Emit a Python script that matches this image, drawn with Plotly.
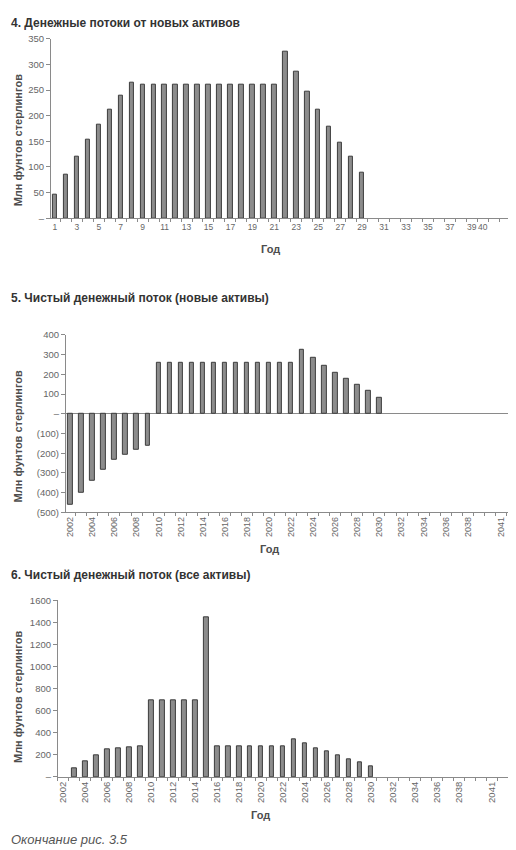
import plotly.graph_objects as go

# 4. cash flows from new assets (year index 1..29)
years_idx = list(range(1, 30))
flows_new = [47, 86, 121, 154, 183, 211, 238, 265,
             260, 260, 260, 260, 260, 260, 260, 260, 260, 260, 260, 260, 260,
             325, 285, 247, 212, 178, 148, 120, 88]
idx_ticks = [1, 3, 5, 7, 9, 11, 13, 15, 17, 19, 21, 23, 25, 27, 29, 31, 33, 35, 37, 39, 40]

# 5. net cash flow, new assets
years_net = list(range(2002, 2031))
net_new = [-463, -400, -338, -283, -233, -208, -183, -163,
           260, 260, 260, 260, 260, 260, 260, 260, 260, 260, 260, 260, 260,
           322, 283, 245, 208, 175, 147, 115, 83]

# 6. net cash flow, all assets
years_all = list(range(2003, 2031))
net_all = [80, 146, 197, 250, 256, 265, 277,
           691, 691, 691, 691, 691, 1448,
           274, 274, 274, 274, 274, 274, 274,
           340, 304, 262, 229, 194, 164, 131, 101]

year_ticks = [2002, 2004, 2006, 2008, 2010, 2012, 2014, 2016, 2018, 2020,
              2022, 2024, 2026, 2028, 2030, 2032, 2034, 2036, 2038, 2041]

W, H = 516, 850
FONT = "Liberation Sans, Arial, sans-serif"
AXIS_COL = "#8a8a8a"
TICK_COL = "#666666"


def px(x):
    return x / W


def py(y):
    return 1 - y / H


bar_style = dict(marker_color="#8c8c8c",
                 marker_line_color="#3c3c3c",
                 marker_line_width=1,
                 width=0.4,
                 showlegend=False)

fig = go.Figure()
fig.add_trace(go.Bar(x=years_idx, y=flows_new, xaxis="x", yaxis="y", **bar_style))
fig.add_trace(go.Bar(x=years_net, y=net_new, xaxis="x2", yaxis="y2", **bar_style))
fig.add_trace(go.Bar(x=years_all, y=net_all, xaxis="x3", yaxis="y3", **bar_style))


def xaxis(domain, rng, ticks, anchor, angle, size):
    return dict(domain=domain, range=rng, anchor=anchor,
                tickmode="array", tickvals=ticks, ticktext=[str(t) for t in ticks],
                tickangle=angle, ticks="", showgrid=False, zeroline=False,
                showline=True, linecolor=AXIS_COL, linewidth=1,
                ticklabeloverflow="allow",
                tickfont=dict(family=FONT, size=size, color=TICK_COL),
                minor=dict(ticks="outside", ticklen=3, tickcolor=AXIS_COL,
                           tick0=0.5, dtick=1, showgrid=False))


def yaxis(domain, rng, vals, text, anchor):
    return dict(domain=domain, range=rng, anchor=anchor,
                tickmode="array", tickvals=vals, ticktext=text,
                ticks="outside", ticklen=4, tickcolor=AXIS_COL,
                showgrid=False, zeroline=False,
                showline=True, linecolor=AXIS_COL, linewidth=1,
                tickfont=dict(family=FONT, size=9.5, color=TICK_COL))


y1_vals = [0, 50, 100, 150, 200, 250, 300, 350]
y1_text = ["–", "50", "100", "150", "200", "250", "300", "350"]
y2_vals = [-500, -400, -300, -200, -100, 0, 100, 200, 300, 400]
y2_text = ["(500)", "(400)", "(300)", "(200)", "(100)", "–", "100", "200", "300", "400"]
y3_vals = [0, 200, 400, 600, 800, 1000, 1200, 1400, 1600]
y3_text = ["–", "200", "400", "600", "800", "1000", "1200", "1400", "1600"]

fig.update_layout(
    width=W, height=H,
    margin=dict(l=0, r=0, t=0, b=0),
    paper_bgcolor="white", plot_bgcolor="white",
    bargap=0,
    xaxis=xaxis([px(42), px(500)], [0.64, 42.3], idx_ticks, "y", 0, 8.5),
    yaxis=yaxis([py(207), py(25)], [0, 350], y1_vals, y1_text, "x"),
    xaxis2=xaxis([px(57), px(515)], [2001.6, 2043.0], year_ticks, "y2", -90, 9),
    yaxis2=yaxis([py(505), py(325)], [-500, 400], y2_vals, y2_text, "x2"),
    xaxis3=xaxis([px(49), px(507)], [2001.5, 2043.1], year_ticks, "y3", -90, 9.5),
    yaxis3=yaxis([py(773), py(594)], [0, 1600], y3_vals, y3_text, "x3"),
)
fig.update_layout(yaxis2=dict(zeroline=True, zerolinecolor=AXIS_COL, zerolinewidth=1))

title_font = dict(family=FONT, size=12, color="#333333")
label_font = dict(family=FONT, size=11, color="#4d4d4d")

notes = [
    dict(text="<b>4. Денежные потоки от новых активов</b>", x=0, y=py(9),
         xanchor="left", font=title_font),
    dict(text="<b>5. Чистый денежный поток (новые активы)</b>", x=0, y=py(288),
         xanchor="left", font=title_font),
    dict(text="<b>6. Чистый денежный поток (все активы)</b>", x=0, y=py(568),
         xanchor="left", font=title_font),
    dict(text="<b>Млн фунтов стерлингов</b>", x=px(9), y=py(128),
         textangle=-90, font=label_font),
    dict(text="<b>Млн фунтов стерлингов</b>", x=px(9), y=py(428),
         textangle=-90, font=label_font),
    dict(text="<b>Млн фунтов стерлингов</b>", x=px(9), y=py(692),
         textangle=-90, font=label_font),
    dict(text="<b>Год</b>", x=px(262), y=py(238), font=label_font),
    dict(text="<b>Год</b>", x=px(261), y=py(542), font=label_font),
    dict(text="<b>Год</b>", x=px(252), y=py(812), font=label_font),
    dict(text="<i>Окончание рис. 3.5</i>", x=0, y=py(836), xanchor="left",
         font=dict(family=FONT, size=13, color="#555555")),
]
for n in notes:
    n.update(xref="paper", yref="paper", showarrow=False, yanchor="middle")
    n.setdefault("xanchor", "center")
fig.update_layout(annotations=notes)

fig.write_html("out.html")
